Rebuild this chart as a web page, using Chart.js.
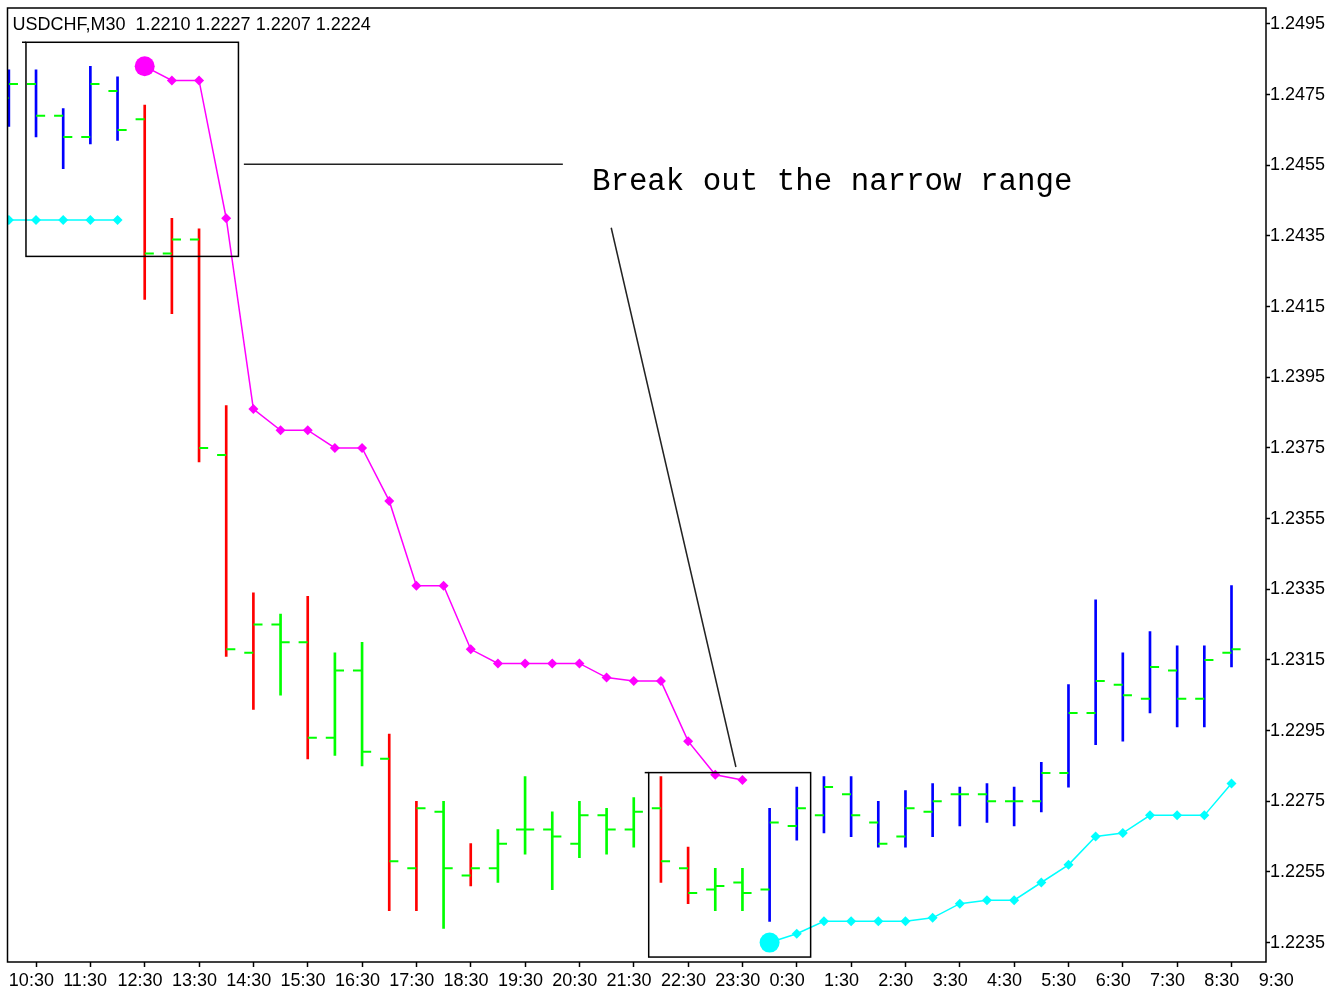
<!DOCTYPE html>
<html>
<head>
<meta charset="utf-8">
<title>USDCHF M30</title>
<script src="https://cdn.jsdelivr.net/npm/chart.js@4.4.0/dist/chart.umd.min.js"></script>
<style>
  html, body { margin: 0; padding: 0; background: #fff; }
  canvas { display: block; }
</style>
</head>
<body>
<canvas id="chart" width="1340" height="994"></canvas>
<script>
// axis labels, one per hour (every 2nd 30-min bar)
const timeLabels = [
  "10:30", "11:30", "12:30", "13:30", "14:30", "15:30", "16:30", "17:30",
  "18:30", "19:30", "20:30", "21:30", "22:30", "23:30", "0:30", "1:30",
  "2:30", "3:30", "4:30", "5:30", "6:30", "7:30", "8:30", "9:30",
];
const priceTicks = [
  1.2235, 1.2255, 1.2275, 1.2295, 1.2315, 1.2335, 1.2355,
  1.2375, 1.2395, 1.2415, 1.2435, 1.2455, 1.2475, 1.2495,
];

// M30 bars, 10:30 .. 9:00
const open = [
  1.2474, 1.2478, 1.2469, 1.2463, 1.2476, 1.2468, 1.2430, 1.2434, 1.2373, 1.2317,
  1.2325, 1.2320, 1.2293, 1.2312, 1.2287, 1.2256, 1.2272, 1.2254, 1.2256, 1.2267,
  1.2267, 1.2263, 1.2271, 1.2267, 1.2273, 1.2256, 1.2250, 1.2252, 1.2250, 1.2268,
  1.2271, 1.2277, 1.2269, 1.2265, 1.2272, 1.2277, 1.2277, 1.2275, 1.2275, 1.2283,
  1.2300, 1.2308, 1.2304, 1.2312, 1.2304, 1.2317,
];
const high = [
  1.2482, 1.2482, 1.2471, 1.2483, 1.2480, 1.2472, 1.2440, 1.2437, 1.2387, 1.2334,
  1.2328, 1.2333, 1.2317, 1.2320, 1.2294, 1.2275, 1.2275, 1.2263, 1.2267, 1.2282,
  1.2272, 1.2275, 1.2273, 1.2276, 1.2282, 1.2262, 1.2256, 1.2256, 1.2273, 1.2279,
  1.2282, 1.2282, 1.2275, 1.2278, 1.2280, 1.2279, 1.2280, 1.2279, 1.2286, 1.2308,
  1.2332, 1.2317, 1.2323, 1.2319, 1.2319, 1.2336,
];
const low = [
  1.2466, 1.2463, 1.2454, 1.2461, 1.2462, 1.2417, 1.2413, 1.2371, 1.2316, 1.2301,
  1.2305, 1.2287, 1.2288, 1.2285, 1.2244, 1.2244, 1.2239, 1.2251, 1.2252, 1.2260,
  1.2250, 1.2259, 1.2260, 1.2262, 1.2252, 1.2246, 1.2244, 1.2244, 1.2241, 1.2264,
  1.2266, 1.2265, 1.2262, 1.2262, 1.2265, 1.2268, 1.2269, 1.2268, 1.2272, 1.2279,
  1.2291, 1.2292, 1.2300, 1.2296, 1.2296, 1.2313,
];
const close = [
  1.2478, 1.2469, 1.2463, 1.2478, 1.2465, 1.2430, 1.2434, 1.2375, 1.2318, 1.2325,
  1.2320, 1.2293, 1.2312, 1.2289, 1.2258, 1.2273, 1.2256, 1.2256, 1.2263, 1.2267,
  1.2265, 1.2271, 1.2267, 1.2272, 1.2258, 1.2249, 1.2251, 1.2249, 1.2269, 1.2273,
  1.2279, 1.2271, 1.2263, 1.2273, 1.2275, 1.2277, 1.2275, 1.2275, 1.2283, 1.2300,
  1.2309, 1.2305, 1.2313, 1.2304, 1.2315, 1.2318,
];
// indicator state per bar (colours the high-low line)
const barState = [
  "up", "up", "up", "up", "up",
  "down", "down", "down", "down", "down",
  "flat", "down", "flat", "flat", "down", "down", "flat", "down",
  "flat", "flat", "flat", "flat", "flat", "flat",
  "down", "down", "flat", "flat",
  "up", "up", "up", "up", "up", "up", "up", "up", "up",
  "up", "up", "up", "up", "up", "up", "up", "up", "up",
];

// indicator lines (null = not drawn)
const magentaLine = [
  null, null, null, null, null,
  1.2483, 1.2479, 1.2479, 1.2440, 1.2386, 1.2380, 1.2380, 1.2375, 1.2375, 1.2360,
  1.2336, 1.2336, 1.2318, 1.2314, 1.2314, 1.2314, 1.2314, 1.2310, 1.2309, 1.2309,
  1.2292, 1.22825, 1.2281,
  null, null, null, null, null, null, null, null, null,
  null, null, null, null, null, null, null, null, null,
];
const cyanLine = [
  1.24395, 1.24395, 1.24395, 1.24395, 1.24395,
  null, null, null, null, null, null, null, null, null, null, null, null,
  null, null, null, null, null, null, null, null, null, null, null,
  1.2235, 1.22375, 1.2241, 1.2241, 1.2241, 1.2241, 1.2242, 1.2246, 1.2247,
  1.2247, 1.2252, 1.2257, 1.2265, 1.2266, 1.2271, 1.2271, 1.2271, 1.2280,
];
const magentaStart = 5;
const cyanStart = 28;

// chart objects, in bar index / price units
const boxes = [
  { x0: 0.63, x1: 8.45, top: 1.24898, bottom: 1.24292 },
  { x0: 23.55, x1: 29.51, top: 1.22831, bottom: 1.22309 },
];
const trendLines = [
  { x0: 8.65, y0: 1.24553, x1: 20.39, y1: 1.24553 },
  { x0: 22.17, y0: 1.24373, x1: 26.76, y1: 1.22847 },
];
const note = { text: "Break out the narrow range", x: 21.46, y: 1.2448 };
const header = "USDCHF,M30  1.2210 1.2227 1.2207 1.2224";

const stateColors = { up: "#0000ff", down: "#ff0000", flat: "#00ff00" };
const TICK_OFF = 0.17; // open/close tick offset in bars
const LABEL_FONT = "'Liberation Sans', Arial, sans-serif";

function lineData(values) {
  return values.map((v, i) => ({ x: i, y: v }));
}

const chartObjects = {
  id: "chartObjects",
  afterDatasetsDraw(chart) {
    const { ctx, chartArea } = chart;
    const xs = chart.scales.x;
    const ys = chart.scales.y;

    ctx.save();
    ctx.strokeStyle = "#000";
    ctx.lineWidth = 1.5;

    boxes.forEach(b => {
      const l = xs.getPixelForValue(b.x0);
      const r = xs.getPixelForValue(b.x1);
      const t = ys.getPixelForValue(b.top);
      const btm = ys.getPixelForValue(b.bottom);
      ctx.strokeRect(l, t, r - l, btm - t);
      ctx.beginPath();
      ctx.moveTo(l - 4, t);
      ctx.lineTo(l, t);
      ctx.stroke();
    });

    ctx.strokeStyle = "#222";
    trendLines.forEach(ln => {
      ctx.beginPath();
      ctx.moveTo(xs.getPixelForValue(ln.x0), ys.getPixelForValue(ln.y0));
      ctx.lineTo(xs.getPixelForValue(ln.x1), ys.getPixelForValue(ln.y1));
      ctx.stroke();
    });

    ctx.fillStyle = "#000";
    ctx.textBaseline = "alphabetic";
    ctx.font = "30.8px 'Liberation Mono', monospace";
    ctx.fillText(note.text, xs.getPixelForValue(note.x), ys.getPixelForValue(note.y));

    // frame
    ctx.strokeStyle = "#000";
    ctx.strokeRect(chartArea.left, chartArea.top, chartArea.width, chartArea.height);

    ctx.font = "18px " + LABEL_FONT;
    ctx.fillText(header, chartArea.left + 5, chartArea.top + 22);
    ctx.restore();
  },
};

const el = document.getElementById("chart");

new Chart(el, {
  type: "scatter",
  data: {
    datasets: [
      {
        type: "line",
        data: lineData(magentaLine),
        borderColor: "#ff00ff",
        borderWidth: 1.5,
        pointBackgroundColor: "#ff00ff",
        pointBorderWidth: 0,
        pointStyle: ctx => (ctx.dataIndex === magentaStart ? "circle" : "rectRot"),
        pointRadius: ctx => (ctx.dataIndex === magentaStart ? 10 : 5),
        spanGaps: false,
        tension: 0,
        order: 0,
      },
      {
        type: "line",
        data: lineData(cyanLine),
        borderColor: "#00ffff",
        borderWidth: 1.5,
        pointBackgroundColor: "#00ffff",
        pointBorderWidth: 0,
        pointStyle: ctx => (ctx.dataIndex === cyanStart ? "circle" : "rectRot"),
        pointRadius: ctx => (ctx.dataIndex === cyanStart ? 10 : 5),
        spanGaps: false,
        tension: 0,
        order: 0,
      },
      {
        type: "scatter",
        data: open.map((v, i) => ({ x: i - TICK_OFF, y: v })),
        pointStyle: "line",
        pointRadius: 4.5,
        borderColor: "#00ff00",
        borderWidth: 2,
        order: 1,
      },
      {
        type: "scatter",
        data: close.map((v, i) => ({ x: i + TICK_OFF, y: v })),
        pointStyle: "line",
        pointRadius: 4.5,
        borderColor: "#00ff00",
        borderWidth: 2,
        order: 1,
      },
      {
        type: "bar",
        data: high.map((h, i) => ({ x: i, y: [low[i], h] })),
        backgroundColor: barState.map(s => stateColors[s]),
        borderWidth: 0,
        barThickness: 2,
        grouped: false,
        order: 2,
      },
    ],
  },
  options: {
    responsive: false,
    animation: false,
    events: [],
    layout: { padding: { left: 7.5, top: 8, right: 0, bottom: 0 } },
    plugins: {
      legend: { display: false },
      tooltip: { enabled: false },
      title: { display: false },
    },
    scales: {
      x: {
        type: "linear",
        offset: false,
        min: -0.05,
        max: 46.27,
        afterBuildTicks: scale => {
          scale.ticks = timeLabels.map((_, k) => ({ value: k * 2 }));
        },
        afterFit: scale => {
          scale.height = 32;
          scale.paddingLeft = 0;
          scale.paddingRight = 0;
        },
        grid: {
          display: true,
          drawOnChartArea: false,
          drawTicks: true,
          tickLength: 5,
          tickColor: "#000",
          tickWidth: 1.5,
        },
        border: { display: false },
        ticks: {
          autoSkip: false,
          maxRotation: 0,
          align: "start",
          padding: 3,
          color: "#000",
          font: { family: LABEL_FONT, size: 18 },
          callback: (value, index) => timeLabels[index],
        },
      },
      y: {
        type: "linear",
        position: "right",
        min: 1.22295,
        max: 1.24995,
        afterBuildTicks: scale => {
          scale.ticks = priceTicks.map(v => ({ value: v }));
        },
        afterFit: scale => {
          scale.width = 74;
          scale.paddingTop = 0;
          scale.paddingBottom = 0;
        },
        grid: {
          display: true,
          drawOnChartArea: false,
          drawTicks: true,
          tickLength: 4,
          tickColor: "#000",
          tickWidth: 1.5,
        },
        border: { display: false },
        ticks: {
          padding: 0,
          color: "#000",
          font: { family: LABEL_FONT, size: 18 },
          callback: value => value.toFixed(4),
        },
      },
    },
  },
  plugins: [chartObjects],
});
</script>
</body>
</html>
